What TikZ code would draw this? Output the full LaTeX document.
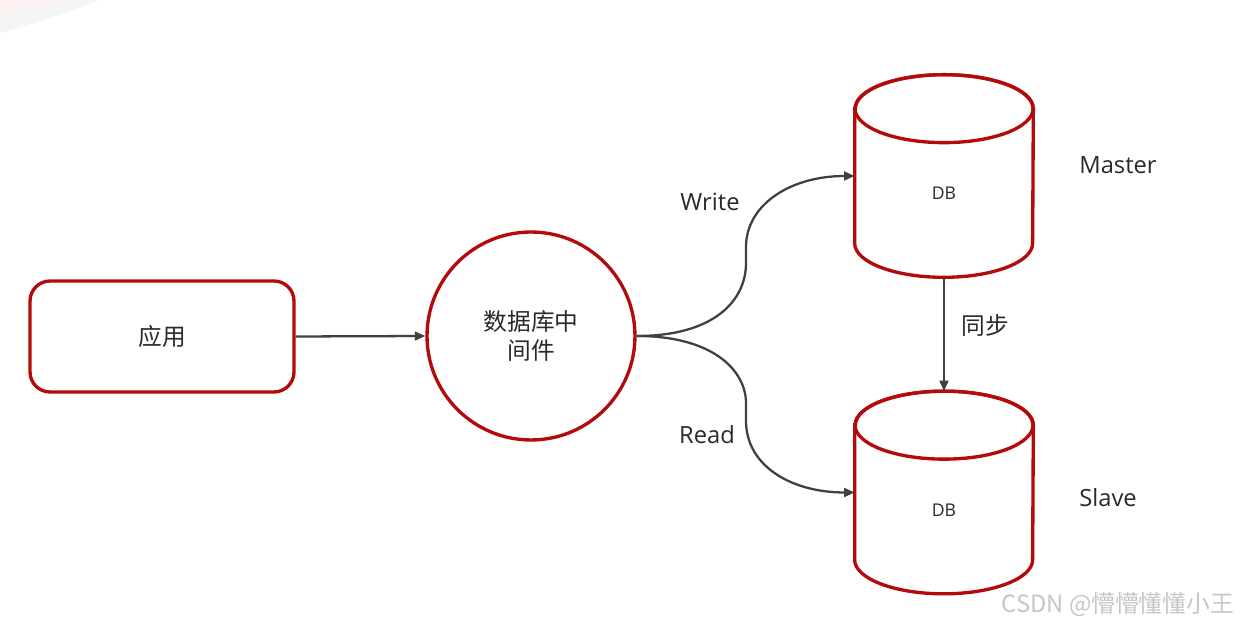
\documentclass[tikz,border=0pt]{standalone}
\usepackage{fontspec}
\setmainfont{Open Sans}
\newfontfamily\cjk{Noto Sans CJK SC}
\usetikzlibrary{arrows.meta}
\definecolor{boxred}{HTML}{B40A0A}
\definecolor{linegray}{HTML}{404040}
\definecolor{textgray}{HTML}{2A2A2A}
\tikzset{
  redline/.style={draw=boxred, line width=1.9pt},
  appbox/.style={redline, rounded corners=0.4cm, minimum width=5.28cm, minimum height=2.22cm, text=textgray, font=\cjk\fontsize{13.5}{16}\selectfont},
  midcircle/.style={redline, circle, minimum size=4.16cm, text=textgray, align=center, font=\cjk\fontsize{13.5}{16}\selectfont},
  dbbox/.style={minimum width=3.56cm, minimum height=4.04cm},
  dbtext/.style={text=textgray, font=\fontsize{10}{12}\selectfont},
  link/.style={draw=linegray, line width=1.3pt, ->},
  lbl/.style={text=textgray, font=\fontsize{13.5}{16}\selectfont},
}
% cylinder drawn round a named dbbox node
\newcommand{\dbcyl}[1]{%
  \draw[redline, fill=white] ([yshift=-0.68cm]#1.north west) -- ([yshift=0.68cm]#1.south west)
    arc[start angle=180, end angle=360, x radius=1.78cm, y radius=0.68cm]
    -- ([yshift=-0.68cm]#1.north east)
    arc[start angle=0, end angle=180, x radius=1.78cm, y radius=0.68cm] -- cycle;
  \draw[redline] ([yshift=-0.68cm]#1.north) ellipse[x radius=1.78cm, y radius=0.68cm];
}
\begin{document}
\begin{tikzpicture}[x=0.02cm, y=0.02cm, >={Triangle[length=6pt,width=5pt]}]
    \useasboundingbox (0,0) rectangle (1241,625);
    % corner of the screen shot
    \fill[gray!8] (0,592) .. controls (40,603) and (75,615) .. (100,625) -- (0,625) -- cycle;
    \fill[pink!22] (0,613) .. controls (30,618) and (55,622) .. (70,625) -- (0,625) -- cycle;

    \node[appbox] (app) at (162,288.5) {应用};
    \node[midcircle] (mid) at (531,289) {数据库中\\间件};
    \node[dbbox] (master) at (944,449) {};
    \node[dbbox] (slave) at (944,132.5) {};
    \dbcyl{master}
    \dbcyl{slave}
    \node[dbtext] (masterdb) at (944,432) {DB};
    \node[dbtext] (slavedb) at (944,115) {DB};

    \draw[link] (app.east) -- (mid.west);
    \draw[link] (mid.east) .. controls (715,289) and (746,325) .. (746,362)
        -- (746,378) .. controls (746,420) and (790,449) .. (master.west);
    \draw[link] (mid.east) .. controls (715,289) and (746,253) .. (746,222)
        -- (746,204) .. controls (746,160) and (790,132.5) .. (slave.west);
    \draw[link] (master.south) -- (slave.north);

    \node[lbl] (write) at (710,423) {Write};
    \node[lbl] (read) at (707,190) {Read};
    \node[lbl, font=\cjk\fontsize{13.5}{16}\selectfont] (sync) at (985,299) {同步};
    \node[lbl] (mastername) at (1118,460) {Master};
    \node[lbl] (slavename) at (1108,127) {Slave};
    \node[anchor=east, text=gray!45, font=\cjk\fontsize{13.5}{15}\selectfont] (mark) at (1240,20) {CSDN @懵懵懂懂小王};
\end{tikzpicture}
\end{document}
